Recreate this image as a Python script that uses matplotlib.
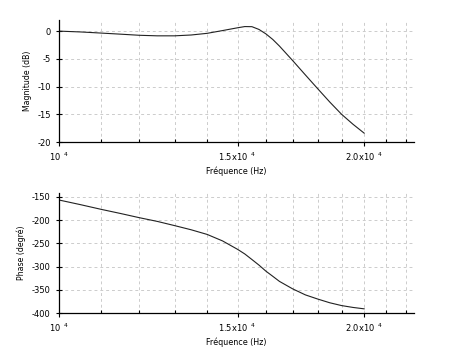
import matplotlib
matplotlib.use("Agg")
import matplotlib.pyplot as plt
from matplotlib.ticker import FixedLocator, FixedFormatter, NullFormatter

# Data
freq = [1.00e4, 1.05e4, 1.10e4, 1.15e4, 1.20e4, 1.25e4, 1.30e4, 1.35e4, 1.40e4,
        1.45e4, 1.50e4, 1.525e4, 1.55e4, 1.575e4, 1.60e4, 1.625e4, 1.65e4, 1.70e4,
        1.75e4, 1.80e4, 1.85e4, 1.90e4, 1.95e4, 2.00e4]
magnitude = [0.0, -0.15, -0.35, -0.55, -0.75, -0.85, -0.85, -0.7, -0.4,
             0.1, 0.6, 0.82, 0.8, 0.3, -0.5, -1.5, -2.7, -5.3,
             -7.9, -10.4, -12.8, -15.0, -16.8, -18.4]
phase = [-157, -167, -177, -186, -195, -203, -212, -221, -231,
         -245, -263, -273, -285, -297, -310, -321, -332, -348,
         -361, -370, -378, -384, -388, -391]

major_x = [1.0e4, 1.5e4, 2.0e4]
major_labels = [r'10$^{\ \ 4}$', r'1.5x10$^{\ \ 4}$', r'2.0x10$^{\ \ 4}$']
minor_x = [1.1e4, 1.2e4, 1.3e4, 1.4e4, 1.6e4, 1.7e4, 1.8e4, 1.9e4, 2.1e4, 2.2e4]
mag_ticks = [0, -5, -10, -15, -20]
phase_ticks = [-150, -200, -250, -300, -350, -400]

plt.rcParams['font.family'] = ['DejaVu Sans']
plt.rcParams['mathtext.default'] = 'regular'
fig = plt.figure(figsize=(4.74, 3.57), dpi=100)
ax1 = fig.add_axes([0.1245, 0.6022, 0.749, 0.3417])
ax2 = fig.add_axes([0.1245, 0.1232, 0.749, 0.3361])

grid_color = '#cccccc'

def style(ax, yticks, ylim, ylabel):
    ax.set_xscale('log')
    ax.set_xlim(1.0e4, 2.24e4)
    ax.set_ylim(*ylim)
    ax.xaxis.set_major_locator(FixedLocator(major_x))
    ax.xaxis.set_major_formatter(FixedFormatter(major_labels))
    ax.xaxis.set_minor_locator(FixedLocator(minor_x))
    ax.xaxis.set_minor_formatter(NullFormatter())
    ax.set_yticks(yticks)
    ax.set_yticklabels([str(t) for t in yticks])
    for s in ['top', 'right']:
        ax.spines[s].set_visible(False)
    for s in ['left', 'bottom']:
        ax.spines[s].set_linewidth(0.9)
    ax.tick_params(axis='x', which='major', direction='out', length=3, width=0.8,
                   labelsize=6, pad=3.5)
    ax.tick_params(axis='x', which='minor', direction='in', length=2.5, width=0.8)
    ax.tick_params(axis='y', which='major', direction='inout', length=4, width=0.8,
                   labelsize=6, pad=4)
    for xv in major_x[1:] + minor_x:
        ax.axvline(xv, color=grid_color, linestyle=(0, (3, 3)), linewidth=0.7, zorder=0)
    for yv in yticks:
        if yv != ylim[0]:
            ax.axhline(yv, color=grid_color, linestyle=(0, (3, 3)), linewidth=0.7, zorder=0)
    ax.set_xlabel('Fréquence (Hz)', fontsize=5.8, labelpad=2.5)
    ax.set_ylabel(ylabel, fontsize=5.6, labelpad=4)

ax1.plot(freq, magnitude, color='#222222', linewidth=0.8)
style(ax1, mag_ticks, (-20, 2), 'Magnitude (dB)')
ax2.plot(freq, phase, color='#222222', linewidth=0.8)
style(ax2, phase_ticks, (-400, -142), 'Phase (degré)')

fig.savefig('out.png', dpi=100)
